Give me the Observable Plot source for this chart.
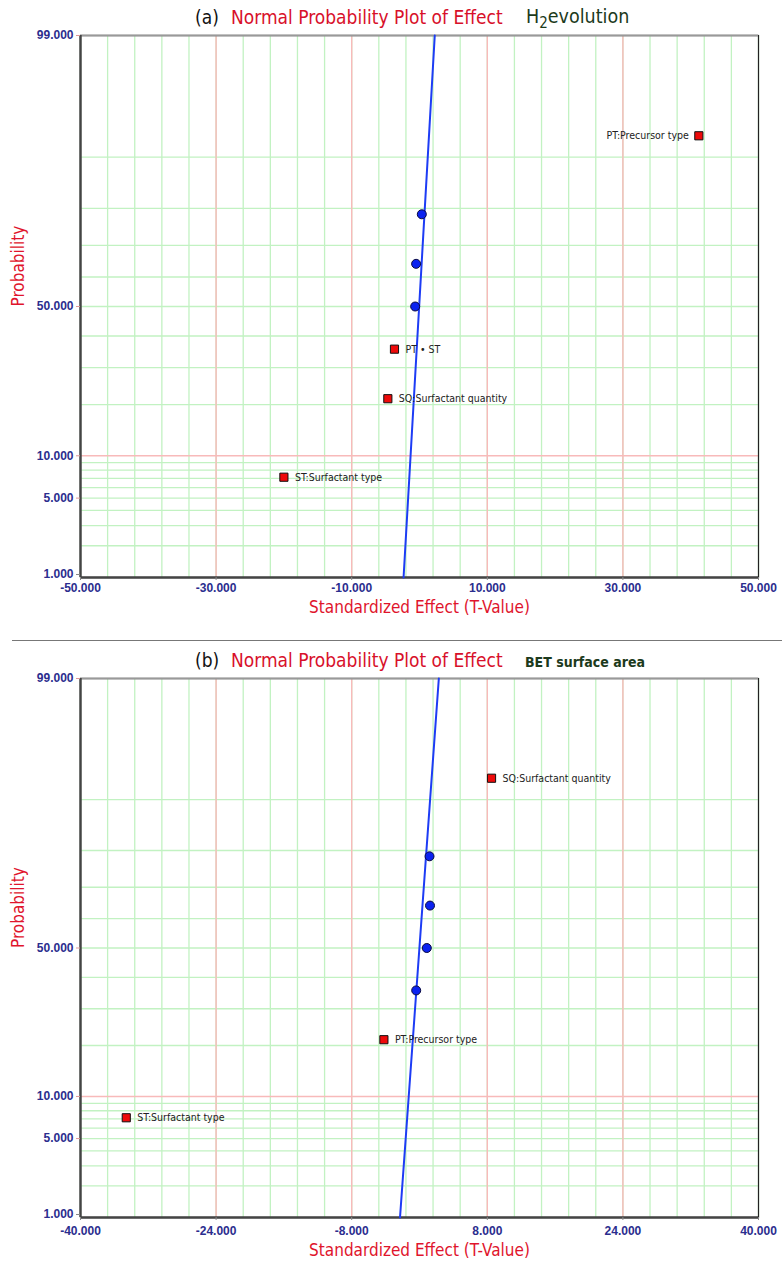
<!DOCTYPE html>
<html>
<head>
<meta charset="utf-8">
<script src="https://cdn.jsdelivr.net/npm/d3@7"></script>
<script src="https://cdn.jsdelivr.net/npm/@observablehq/plot@0.6"></script>
<style>
  body { margin: 0; width: 782px; height: 1270px; position: relative; background: #fff; overflow: hidden; }
  .t { position: absolute; white-space: nowrap; font-family: "DejaVu Sans Condensed", "DejaVu Sans", sans-serif; line-height: 22px; }
  .panel { position: absolute; left: 0; }
  .sep { position: absolute; left: 12px; top: 640px; width: 770px; height: 0; border-top: 1.5px solid #777; }
</style>
</head>
<body>
<div class="t" style="left:195px;top:6px;font-size:19px;color:#111">(a)</div>
<div class="t" style="left:231px;top:6px;font-size:19px;color:#d8102a">Normal Probability Plot of Effect</div>
<div class="t" style="left:526px;top:6px;font-size:19.5px;color:#1c3a1c">H<span style="font-size:15px;position:relative;top:5px">2</span>evolution</div>
<div id="pa" class="panel" style="top:28px"></div>
<div class="sep"></div>
<div class="t" style="left:195px;top:649px;font-size:19px;color:#111">(b)</div>
<div class="t" style="left:231px;top:649px;font-size:19px;color:#d8102a">Normal Probability Plot of Effect</div>
<div class="t" style="left:525px;top:651px;font-size:14px;font-weight:bold;color:#1c3a1c">BET surface area</div>
<div id="pb" class="panel" style="top:671px"></div>
<script>
// ---------- data ----------
// Panel (a): H2 evolution
const sigNamesA = ["ST:Surfactant type", "SQ:Surfactant quantity", "PT • ST", "PT:Precursor type"];
const sigTA = [-20.0, -4.67, -3.69, 41.2];
const sigPA = [7.14, 21.43, 35.71, 92.86];
const errTA = [-0.64, -0.5, 0.34];
const errPA = [50.0, 64.29, 78.57];
const lineTA = [-2.35, 2.25];
const lineP = [1, 99];
const xTicksA = [-50, -30, -10, 10, 30, 50];
const xMajorGridA = [-30, -10, 10, 30];

// Panel (b): BET surface area
const sigNamesB = ["ST:Surfactant type", "PT:Precursor type", "SQ:Surfactant quantity"];
const sigTB = [-34.6, -4.2, 8.5];
const sigPB = [7.14, 21.43, 92.86];
const errTB = [-0.39, 0.86, 1.24, 1.18];
const errPB = [35.71, 50.0, 64.29, 78.57];
const lineTB = [-2.3, 2.28];
const xTicksB = [-40, -24, -8, 8, 24, 40];
const xMajorGridB = [-24, -8, 8, 24];

// probability axis
const yTicks = [5, 10, 50, 99];
const yTickBottom = [1];
const yMinorGrid = [2, 3, 4, 5, 6, 7, 8, 9, 20, 30, 40, 50, 60, 70, 80, 90];
const yMajorGrid = [10];

const xLabel = "Standardized Effect (T-Value)";
const yLabel = "Probability";

// ---------- helpers ----------
function probit(p) {
  const a=[-3.969683028665376e+01,2.209460984245205e+02,-2.759285104469687e+02,1.383577518672690e+02,-3.066479806614716e+01,2.506628277459239e+00];
  const b=[-5.447609879822406e+01,1.615858368580409e+02,-1.556989798598866e+02,6.680131188771972e+01,-1.328068155288572e+01];
  const c=[-7.784894002430293e-03,-3.223964580411365e-01,-2.400758277161838e+00,-2.549732539343734e+00,4.374664141464968e+00,2.938163982698783e+00];
  const d=[7.784695709041462e-03,3.224671290700398e-01,2.445134137142996e+00,3.754408661907416e+00];
  const pl = 0.02425, ph = 1 - pl;
  let q, r;
  if (p < pl) { q = Math.sqrt(-2*Math.log(p)); return (((((c[0]*q+c[1])*q+c[2])*q+c[3])*q+c[4])*q+c[5])/((((d[0]*q+d[1])*q+d[2])*q+d[3])*q+1); }
  if (p <= ph) { q = p - 0.5; r = q*q; return (((((a[0]*r+a[1])*r+a[2])*r+a[3])*r+a[4])*r+a[5])*q/(((((b[0]*r+b[1])*r+b[2])*r+b[3])*r+b[4])*r+1); }
  q = Math.sqrt(-2*Math.log(1-p)); return -(((((c[0]*q+c[1])*q+c[2])*q+c[3])*q+c[4])*q+c[5])/((((d[0]*q+d[1])*q+d[2])*q+d[3])*q+1);
}

const GREEN = "#c2f2c2", RED = "#f8baba", BLUE_TXT = "#2b2d8e", LABEL_RED = "#e0142c";
const COND = "'DejaVu Sans Condensed', 'DejaVu Sans', sans-serif";
const fmt = d => d.toFixed(3);

function panel({xDomain, xStep, xTicks, xMajorGrid, sigNames, sigT, sigP, errT, errP, lineT, height, mt, mb, labelDy, xPad, leftLabelIdx}) {
  const sig = sigNames.map((n, i) => ({name: n, t: sigT[i], p: sigP[i], left: i === leftLabelIdx}));
  const err = errT.map((t, i) => ({t, p: errP[i]}));
  const line = lineT.map((t, i) => ({t, p: lineP[i]}));
  const xMinorGrid = d3.range(xDomain[0], xDomain[1] + xStep / 2, xStep);
  const tickStyle = {tickFormat: fmt, fill: BLUE_TXT, fontSize: 12, fontWeight: "bold", label: null};
  return Plot.plot({
    width: 782, height,
    marginLeft: 80, marginRight: 24, marginTop: mt, marginBottom: mb,
    x: {domain: xDomain},
    y: {domain: [probit(0.01), probit(0.99)], transform: p => probit(p / 100)},
    style: {fontFamily: "'Liberation Sans', Arial, sans-serif", background: "white", overflow: "visible"},
    marks: [
      Plot.gridX(xMinorGrid, {stroke: GREEN, strokeOpacity: 1, strokeWidth: 1.3}),
      Plot.gridY(yMinorGrid, {stroke: GREEN, strokeOpacity: 1, strokeWidth: 1.3}),
      Plot.gridX(xMajorGrid, {stroke: RED, strokeOpacity: 1, strokeWidth: 1.4}),
      Plot.gridY(yMajorGrid, {stroke: RED, strokeOpacity: 1, strokeWidth: 1.4}),
      Plot.frame({stroke: "#222", strokeWidth: 1.2}),
      Plot.ruleY([99], {stroke: "#999", strokeWidth: 2}),
      Plot.ruleX([xDomain[0]], {stroke: "#444", strokeWidth: 2.4}),
      Plot.ruleY([1], {stroke: "#444", strokeWidth: 2.4}),
      Plot.axisX(xTicks, {...tickStyle, tickSize: 3, tickPadding: xPad, stroke: "#888"}),
      Plot.axisY(yTicks, {...tickStyle, tickSize: 4, tickPadding: 3, stroke: "#d99"}),
      Plot.axisY(yTickBottom, {...tickStyle, tickSize: 4, tickPadding: 3, stroke: "#888", dy: -3}),
      Plot.line(line, {x: "t", y: "p", stroke: "#1d3cf5", strokeWidth: 2}),
      Plot.dot(err, {x: "t", y: "p", r: 4.5, fill: "#0b22f0", stroke: "#0a0a40", strokeWidth: 1}),
      Plot.dot(sig, {x: "t", y: "p", symbol: "square", r: 4.6, fill: "#ee0a0a", stroke: "#111", strokeWidth: 1}),
      Plot.text(sig, {filter: d => !d.left, x: "t", y: "p", text: "name", textAnchor: "start", dx: 11, fontSize: 10.5, fill: "#222", fontFamily: COND}),
      Plot.text(sig, {filter: d => d.left, x: "t", y: "p", text: "name", textAnchor: "end", dx: -10, fontSize: 10.5, fill: "#222", fontFamily: COND}),
      Plot.text([xLabel], {text: d => d, frameAnchor: "bottom", dy: labelDy, fontSize: 17, fill: LABEL_RED, fontFamily: COND}),
      Plot.text([yLabel], {text: d => d, frameAnchor: "left", dx: -62, rotate: -90, fontSize: 17, fill: LABEL_RED, fontFamily: COND})
    ]
  });
}

document.getElementById("pa").append(panel({
  xDomain: [-50, 50], xStep: 4, xTicks: xTicksA, xMajorGrid: xMajorGridA,
  sigNames: sigNamesA, sigT: sigTA, sigP: sigPA, errT: errTA, errP: errPA, lineT: lineTA,
  height: 600, mt: 7, mb: 51, labelDy: 35, xPad: 3, leftLabelIdx: 3
}));
document.getElementById("pb").append(panel({
  xDomain: [-40, 40], xStep: 3.2, xTicks: xTicksB, xMajorGrid: xMajorGridB,
  sigNames: sigNamesB, sigT: sigTB, sigP: sigPB, errT: errTB, errP: errPB, lineT: lineTB,
  height: 599, mt: 7, mb: 53, labelDy: 38, xPad: 6, leftLabelIdx: -1
}));
</script>
</body>
</html>
